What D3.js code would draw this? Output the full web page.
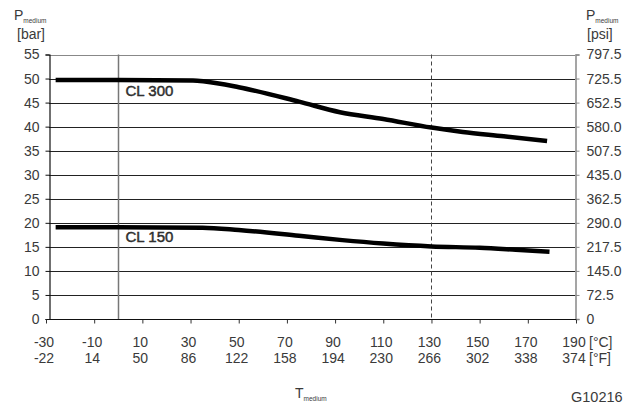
<!DOCTYPE html>
<html>
<head>
<meta charset="UTF-8">
<script src="https://cdnjs.cloudflare.com/ajax/libs/d3/7.8.5/d3.min.js"></script>
<style>
  body { margin: 0; background: #fff; }
  text { font-family: "Liberation Sans", Arial, sans-serif; fill: #3a3a3a; }
</style>
</head>
<body>
<script>
// temperature ticks (two rows) and pressure ticks
var tempC = [-30, -10, 10, 30, 50, 70, 90, 110, 130, 150, 170, 190];
var tempF = [-22, 14, 50, 86, 122, 158, 194, 230, 266, 302, 338, 374];
var barTicks = [0, 5, 10, 15, 20, 25, 30, 35, 40, 45, 50, 55];
var psiLabels = ["0", "72.5", "145.0", "217.5", "290.0", "362.5", "435.0",
                 "507.5", "580.0", "652.5", "725.5", "797.5"];

// curves (°C, bar)
var cl300T = [-26, 0, 31, 36, 50, 75, 92, 110, 130, 143, 160, 178];
var cl300P = [49.7, 49.7, 49.6, 49.4, 48.2, 45.2, 43.0, 41.6, 39.8, 38.9, 38.0, 37.0];
var cl150T = [-26, 0, 35, 50, 75, 93, 110, 130, 150, 165, 179];
var cl150P = [19.1, 19.1, 19.0, 18.5, 17.3, 16.4, 15.7, 15.1, 14.8, 14.4, 14.0];

var width = 639, height = 407;
var plotLeft = 49, plotRight = 575, plotTop = 54.5, plotBottom = 319;

var svg = d3.select("body").append("svg")
    .attr("width", width)
    .attr("height", height);

var x = d3.scaleLinear().domain([-30, 190]).range([46, 576]);
var y = d3.scaleLinear().domain([0, 55]).range([plotBottom, plotTop]);

// horizontal grid
svg.append("g").selectAll("line")
    .data(barTicks.filter(function (d) { return d > 0; }))
    .enter().append("line")
    .attr("x1", plotLeft).attr("x2", plotRight)
    .attr("y1", function (d) { return Math.round(y(d)) + 0.5; })
    .attr("y2", function (d) { return Math.round(y(d)) + 0.5; })
    .attr("stroke", function (d) { return d == 55 ? "#888" : "#222"; })
    .attr("stroke-width", 1);

// 0 °C line and 130 °C dashed line
svg.append("line")
    .attr("x1", Math.round(x(0)) + 0.5).attr("x2", Math.round(x(0)) + 0.5)
    .attr("y1", y(55)).attr("y2", y(0))
    .attr("stroke", "#777").attr("stroke-width", 1.5);
svg.append("line")
    .attr("x1", Math.round(x(130)) + 0.5).attr("x2", Math.round(x(130)) + 0.5)
    .attr("y1", y(55)).attr("y2", y(0))
    .attr("stroke", "#444").attr("stroke-width", 1)
    .attr("stroke-dasharray", "4,3");

// axes
var yLeft = d3.axisLeft(y).tickValues(barTicks).tickSize(4).tickPadding(6);
var gl = svg.append("g").attr("transform", "translate(" + (plotLeft + 0.5) + ",0)").call(yLeft);
gl.select(".domain").attr("stroke", "#111").attr("stroke-width", 1.2);
gl.selectAll(".tick line").attr("stroke", "#111");

var yRight = d3.axisRight(y).tickValues(barTicks).tickSize(4).tickPadding(7)
    .tickFormat(function (d, i) { return psiLabels[i]; });
var gr = svg.append("g").attr("transform", "translate(" + (plotRight + 0.5) + ",0)").call(yRight);
gr.select(".domain").attr("stroke", "#888").attr("stroke-width", 1.5);
gr.selectAll(".tick line").attr("stroke", "#888");

var xAxis = d3.axisBottom(x).tickValues(tempC).tickSize(4).tickFormat("");
var gb = svg.append("g").attr("transform", "translate(0," + (plotBottom + 0.5) + ")").call(xAxis);
gb.select(".domain").remove();
gb.selectAll(".tick line").attr("stroke", "#333");
svg.append("line")
    .attr("x1", plotLeft).attr("x2", plotRight + 1)
    .attr("y1", plotBottom + 0.5).attr("y2", plotBottom + 0.5)
    .attr("stroke", "#111").attr("stroke-width", 1.2);

svg.selectAll(".tick text")
    .style("font-family", "'Liberation Sans', Arial, sans-serif")
    .style("font-size", "14px")
    .attr("fill", "#3a3a3a");

// two rows of temperature labels
var rows = svg.append("g").style("font-size", "14px");
tempC.forEach(function (c, i) {
    rows.append("text").attr("x", x(c) - 2).attr("y", 347)
        .attr("text-anchor", "middle").text(c);
    rows.append("text").attr("x", x(c) - 2).attr("y", 363)
        .attr("text-anchor", "middle").text(tempF[i]);
});
rows.append("text").attr("x", x(190) + 13).attr("y", 347).text("[°C]");
rows.append("text").attr("x", x(190) + 13).attr("y", 363).text("[°F]");

// curves
var line = d3.line()
    .x(function (d) { return x(d[0]); })
    .y(function (d) { return y(d[1]); })
    .curve(d3.curveMonotoneX);

[[cl300T, cl300P], [cl150T, cl150P]].forEach(function (s) {
    svg.append("path")
        .datum(d3.zip(s[0], s[1]))
        .attr("d", line)
        .attr("fill", "none")
        .attr("stroke", "#000")
        .attr("stroke-width", 4.5);
});

svg.append("text").attr("x", x(3)).attr("y", y(49.7) + 16.5)
    .style("font-size", "15px").attr("fill", "#1a1a1a")
    .attr("stroke", "#1a1a1a").attr("stroke-width", 0.45)
    .text("CL 300");
svg.append("text").attr("x", x(3)).attr("y", y(19.1) + 15)
    .style("font-size", "15px").attr("fill", "#1a1a1a")
    .attr("stroke", "#1a1a1a").attr("stroke-width", 0.45)
    .text("CL 150");

// axis titles
function title(tx, ty, main, sub) {
    var t = svg.append("text").attr("x", tx).attr("y", ty).style("font-size", "14px");
    t.append("tspan").text(main);
    t.append("tspan").attr("dy", 3).style("font-size", "6.5px").text(sub);
}
title(14, 20, "P", "medium");
svg.append("text").attr("x", 17).attr("y", 39).style("font-size", "14px").text("[bar]");
title(586, 20, "P", "medium");
svg.append("text").attr("x", 587).attr("y", 39).style("font-size", "14px").text("[psi]");
title(295, 398, "T", "medium");
svg.append("text").attr("x", 571).attr("y", 402).style("font-size", "14.5px").text("G10216");
</script>
</body>
</html>
